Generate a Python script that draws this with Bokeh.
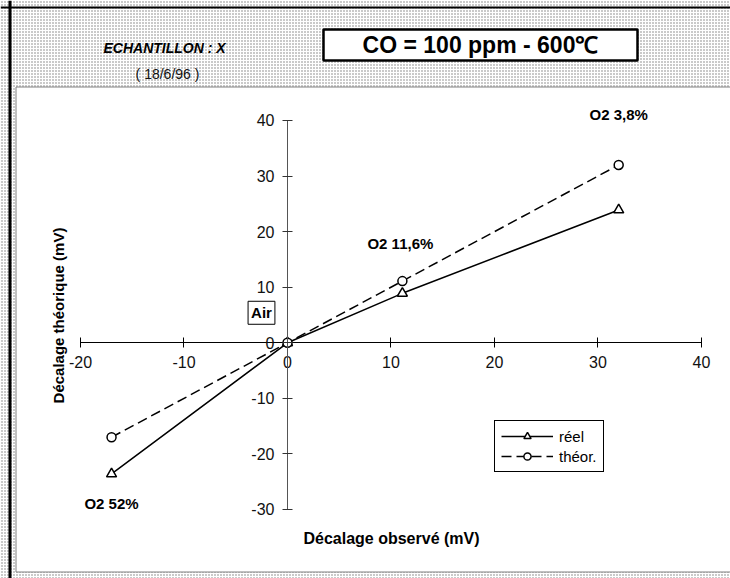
import math
from bokeh.plotting import figure
from bokeh.models import (Range1d, LinearAxis, FixedTicker, Label, Legend, LegendItem,
                          BoxAnnotation, Span)
from bokeh.embed import file_html
from bokeh.resources import INLINE

# ---- data ----
observed = [-17, 0, 11.1, 32]
reel = [-23.6, 0, 8.9, 23.9]
theor = [-17, 0, 11.1, 32]
series_names = ["réel", "théor."]
x_ticks = [-20, -10, 0, 10, 20, 30, 40]
y_ticks = [-30, -20, -10, 0, 10, 20, 30, 40]
point_labels = ["O2 52%", "Air", "O2 11,6%", "O2 3,8%"]
title_text = "CO = 100 ppm - 600℃"
sample_text = "ECHANTILLON : X"
date_text = "( 18/6/96 )"
x_title = "Décalage observé (mV)"
y_title = "Décalage théorique (mV)"

FONT = "Liberation Sans"
INK = "#000000"
W, H = 730, 578

p = figure(width=W, height=H, output_backend="svg", toolbar_location=None,
           x_axis_type=None, y_axis_type=None,
           x_range=Range1d(-27.729, 42.802), y_range=Range1d(-42.419, 61.594),
           min_border=0, outline_line_color=None)

# background stipple and white panel
bg = BoxAnnotation(fill_color="#ffffff", fill_alpha=1, hatch_pattern="dot",
                   hatch_color="#7a7a7a", hatch_scale=3, hatch_weight=1,
                   line_color=None, level="image")
p.add_layout(bg)
panel = BoxAnnotation(left=15.5, left_units="screen", right=W + 5, right_units="screen",
                      top=H - 86.5, top_units="screen", bottom=H - 571.5, bottom_units="screen",
                      fill_color="white", fill_alpha=1, line_color="#808080", line_alpha=1,
                      line_width=1, level="image")
p.add_layout(panel)
p.add_layout(Span(location=9.5, location_units="screen", dimension="height",
                  line_color="black", line_width=3, level="underlay"))
p.add_layout(Span(location=H - 7, location_units="screen", dimension="width",
                  line_color="black", line_width=2, level="underlay"))

# title box
tbox = BoxAnnotation(left=323, left_units="screen", right=637, right_units="screen",
                     top=H - 29, top_units="screen", bottom=H - 60, bottom_units="screen",
                     fill_color="white", fill_alpha=1, line_color="black", line_alpha=1,
                     line_width=2.5, level="underlay")
p.add_layout(tbox)
p.add_layout(Label(x=480, y=H - 44.5, x_units="screen", y_units="screen", text=title_text,
                   text_align="center", text_baseline="middle", text_font=FONT,
                   text_font_style="bold", text_font_size="23px", text_color=INK))
p.add_layout(Label(x=103, y=H - 47, x_units="screen", y_units="screen", text=sample_text,
                   text_align="left", text_baseline="middle", text_font=FONT,
                   text_font_style="bold italic", text_font_size="14px", text_color=INK))
p.add_layout(Label(x=167, y=H - 73.5, x_units="screen", y_units="screen", text=date_text,
                   text_align="center", text_baseline="middle", text_font=FONT,
                   text_font_size="14px", text_color="#111111"))

# axes crossing at zero
xaxis = LinearAxis(fixed_location=0, ticker=FixedTicker(ticks=x_ticks), bounds=(-20, 40),
                   axis_line_color="black", axis_line_width=1,
                   major_tick_in=5, major_tick_out=5, major_tick_line_color="black",
                   minor_tick_line_color=None,
                   major_label_overrides={t: str(t) for t in x_ticks},
                   major_label_text_font=FONT, major_label_text_font_size="16px",
                   major_label_text_color="#111111", major_label_standoff=8)
p.add_layout(xaxis, "below")
yaxis = LinearAxis(fixed_location=0, ticker=FixedTicker(ticks=y_ticks), bounds=(-30, 40),
                   axis_line_color="#555555", axis_line_width=1,
                   major_tick_in=5, major_tick_out=5, major_tick_line_color="#333333",
                   minor_tick_line_color=None,
                   major_label_overrides={t: str(t) for t in y_ticks},
                   major_label_text_font=FONT, major_label_text_font_size="16px",
                   major_label_text_color="#111111", major_label_standoff=8)
p.add_layout(yaxis, "left")

# axis titles
p.add_layout(Label(x=391, y=H - 538, x_units="screen", y_units="screen", text=x_title,
                   text_align="center", text_baseline="middle", text_font=FONT,
                   text_font_style="bold", text_font_size="16px", text_color=INK))
p.add_layout(Label(x=58, y=H - 315, x_units="screen", y_units="screen", text=y_title,
                   angle=math.pi / 2, text_align="center", text_baseline="middle",
                   text_font=FONT, text_font_style="bold", text_font_size="15px",
                   text_color=INK))

# series
r1 = p.line(observed, reel, line_color="black", line_width=1.5)
s1 = p.scatter(observed, reel, marker="triangle", size=10, fill_color="white",
               line_color="black", line_width=1.5)
r2 = p.line(observed, theor, line_color="black", line_width=1.5, line_dash="10 5")
s2 = p.scatter(observed, theor, marker="circle", size=9, fill_color="white",
               line_color="black", line_width=1.5)

legend = Legend(items=[LegendItem(label=series_names[0], renderers=[r1, s1]),
                       LegendItem(label=series_names[1], renderers=[r2, s2])],
                location=(494, H - 472), orientation="vertical",
                glyph_width=52, glyph_height=18, label_height=18, label_standoff=6,
                padding=6, spacing=2, margin=0,
                border_line_color="black", border_line_width=1, border_line_alpha=1,
                background_fill_color="white", background_fill_alpha=1,
                label_text_font=FONT, label_text_font_size="15px", label_text_color=INK)
p.add_layout(legend)

# point annotations
anchors = [(observed[0], reel[0], 0, -30),
           (observed[1], theor[1], -26, 30),
           (observed[2], theor[2], -2, 38),
           (observed[3], theor[3], 0, 50)]
for (ax, ay, dx, dy), txt in zip(anchors, point_labels):
    kw = {}
    if txt == "Air":
        kw = dict(border_line_color="black", border_line_width=1, border_line_alpha=1,
                  background_fill_color="white", background_fill_alpha=1, padding=3)
    p.add_layout(Label(x=ax, y=ay, x_offset=dx, y_offset=dy, text=txt,
                       text_align="center", text_baseline="middle", text_font=FONT,
                       text_font_style="bold", text_font_size="15px", text_color=INK, **kw))

open("out.html", "w").write(file_html(p, INLINE))
